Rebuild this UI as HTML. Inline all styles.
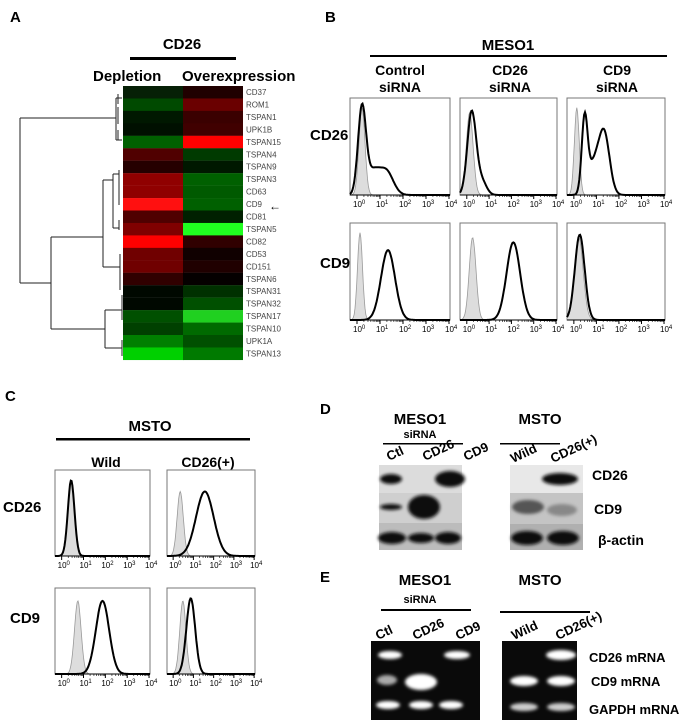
<!DOCTYPE html>
<html><head><meta charset="utf-8"><style>
body{margin:0;background:#fff}
svg{display:block;font-family:"Liberation Sans",sans-serif}
.b{font-weight:bold}
</style></head><body>
<svg id="s" width="689" height="724" viewBox="0 0 689 724" xmlns="http://www.w3.org/2000/svg">
<defs>
<filter id="bl2" x="-50%" y="-50%" width="200%" height="200%"><feGaussianBlur stdDeviation="1.5"/></filter>
</defs>
<!-- Panel A -->
<text x="10" y="22" font-size="15" class="b">A</text>
<text x="182" y="49" font-size="15" class="b" text-anchor="middle">CD26</text>
<rect x="130" y="57" width="106" height="3" fill="#000"/>
<text x="93" y="81" font-size="15" class="b">Depletion</text>
<text x="182" y="81" font-size="15" class="b">Overexpression</text>
<g id="heat"></g>
<g stroke="#222" stroke-width="1" fill="none">
<path d="M20,118 V283 M20,118 H116 M116,98 V140 M116,98 H122 M116,140 H122 M118,94 V104 M118,107 V124 M118,130 V140"/>
<path d="M20,283 H51 M51,237 V329 M51,237 H103 M103,180 V267 M103,180 H113 M113,174 V228 M113,228 H119 M119,220 V230 M113,174 H119 M119,170 V205 M103,267 H120 M120,254 V290"/>
<path d="M51,329 H105 M105,310 V348 M105,310 H122 M105,348 H122 M122,295 V320 M122,340 V356"/>
</g>
<g id="alab" font-size="8" fill="#444"></g>
<text x="269" y="210" font-size="12">&#8592;</text>

<!-- Panel B -->
<text x="325" y="22" font-size="15" class="b">B</text>
<text x="508" y="50" font-size="15" class="b" text-anchor="middle">MESO1</text>
<rect x="370" y="55" width="297" height="2" fill="#000"/>
<g font-size="14" class="b" text-anchor="middle">
<text x="400" y="75">Control</text><text x="400" y="92">siRNA</text>
<text x="510" y="75">CD26</text><text x="510" y="92">siRNA</text>
<text x="617" y="75">CD9</text><text x="617" y="92">siRNA</text>
</g>
<text x="310" y="140" font-size="15" class="b">CD26</text>
<text x="320" y="268" font-size="15" class="b">CD9</text>
<g font-size="13" class="b">
<text x="405" y="125">MFI</text><text x="405" y="142">23.5</text>
<text x="628" y="125">MFI</text><text x="628" y="142">53.7</text>
<text x="413" y="249">MFI</text><text x="413" y="266">70.3</text>
<text x="476" y="241">MFI</text><text x="476" y="258">212.5</text>
</g>

<!-- Panel C -->
<text x="5" y="401" font-size="15" class="b">C</text>
<text x="150" y="431" font-size="15" class="b" text-anchor="middle">MSTO</text>
<rect x="56" y="438" width="194" height="2.5" fill="#000"/>
<text x="106" y="467" font-size="14" class="b" text-anchor="middle">Wild</text>
<text x="208" y="467" font-size="14" class="b" text-anchor="middle">CD26(+)</text>
<text x="3" y="512" font-size="15" class="b">CD26</text>
<text x="10" y="623" font-size="15" class="b">CD9</text>
<g font-size="13" class="b">
<text x="215" y="491">MFI</text><text x="215" y="508">57.8</text>
<text x="113" y="606">MFI</text><text x="113" y="623">71.6</text>
<text x="208" y="606">MFI</text><text x="215" y="623">11.2</text>
</g>
<g id="hists"></g>

<!-- Panel D -->
<text x="320" y="414" font-size="15" class="b">D</text>
<text x="420" y="424" font-size="15" class="b" text-anchor="middle">MESO1</text>
<text x="420" y="438" font-size="11" class="b" text-anchor="middle">siRNA</text>
<rect x="383" y="443" width="80" height="1.5" fill="#000"/>
<text x="540" y="424" font-size="15" class="b" text-anchor="middle">MSTO</text>
<rect x="500" y="443" width="60" height="1.5" fill="#000"/>
<g font-size="13" class="b">
<text transform="translate(389,461) rotate(-25)">Ctl</text>
<text transform="translate(425,461) rotate(-25)">CD26</text>
<text transform="translate(466,461) rotate(-25)">CD9</text>
<text transform="translate(513,463) rotate(-25)">Wild</text>
<text transform="translate(553,463) rotate(-25)">CD26(+)</text>
</g>
<rect x="379" y="465" width="83" height="28" fill="#dcdcdc"/>
<rect x="379" y="493" width="83" height="30" fill="#cfcfcf"/>
<rect x="379" y="523" width="83" height="27" fill="#bcbcbc"/>
<rect x="510" y="465" width="73" height="28" fill="#e8e8e8"/>
<rect x="510" y="493" width="73" height="31" fill="#c4c4c4"/>
<rect x="510" y="524" width="73" height="26" fill="#b0b0b0"/>
<g fill="#111" filter="url(#bl2)">
<ellipse cx="391" cy="479" rx="11" ry="5"/>
<ellipse cx="450" cy="479" rx="15" ry="8"/>
<ellipse cx="560" cy="479" rx="18" ry="6"/>
<ellipse cx="391" cy="507" rx="11" ry="3"/>
<ellipse cx="424" cy="507" rx="16" ry="12"/>
<ellipse cx="528" cy="507" rx="16" ry="7" fill="#555"/>
<ellipse cx="562" cy="510" rx="15" ry="6" fill="#888"/>
<ellipse cx="392" cy="538" rx="14" ry="6"/>
<ellipse cx="421" cy="538" rx="13" ry="5"/>
<ellipse cx="448" cy="538" rx="13" ry="6"/>
<ellipse cx="527" cy="538" rx="16" ry="7"/>
<ellipse cx="563" cy="538" rx="16" ry="7"/>
</g>
<g font-size="14" class="b">
<text x="592" y="480">CD26</text><text x="594" y="514">CD9</text><text x="598" y="545">β-actin</text>
</g>

<!-- Panel E -->
<text x="320" y="582" font-size="15" class="b">E</text>
<text x="425" y="585" font-size="15" class="b" text-anchor="middle">MESO1</text>
<text x="420" y="603" font-size="11" class="b" text-anchor="middle">siRNA</text>
<rect x="381" y="609" width="90" height="2" fill="#000"/>
<text x="540" y="585" font-size="15" class="b" text-anchor="middle">MSTO</text>
<rect x="500" y="611" width="90" height="2" fill="#000"/>
<g font-size="13" class="b">
<text transform="translate(378,640) rotate(-25)">Ctl</text>
<text transform="translate(415,640) rotate(-25)">CD26</text>
<text transform="translate(458,640) rotate(-25)">CD9</text>
<text transform="translate(514,640) rotate(-25)">Wild</text>
<text transform="translate(558,640) rotate(-25)">CD26(+)</text>
</g>
<rect x="371" y="641" width="109" height="79" fill="#0a0a0a"/>
<rect x="502" y="641" width="75" height="79" fill="#0a0a0a"/>
<g fill="#fff" filter="url(#bl2)">
<ellipse cx="390" cy="655" rx="12" ry="4"/>
<ellipse cx="457" cy="655" rx="13" ry="4"/>
<ellipse cx="387" cy="680" rx="10" ry="5" fill="#aaa"/>
<ellipse cx="421" cy="682" rx="16" ry="8"/>
<ellipse cx="388" cy="705" rx="12" ry="4"/>
<ellipse cx="421" cy="705" rx="12" ry="4"/>
<ellipse cx="451" cy="705" rx="12" ry="4"/>
<ellipse cx="561" cy="655" rx="15" ry="5"/>
<ellipse cx="524" cy="681" rx="14" ry="5"/>
<ellipse cx="561" cy="681" rx="14" ry="5"/>
<ellipse cx="524" cy="707" rx="14" ry="4" fill="#ccc"/>
<ellipse cx="561" cy="707" rx="14" ry="4" fill="#ccc"/>
</g>
<g font-size="13" class="b">
<text x="589" y="662">CD26 mRNA</text><text x="591" y="686">CD9 mRNA</text><text x="589" y="714">GAPDH mRNA</text>
</g>
</svg>
<script>
var NS="http://www.w3.org/2000/svg";
function el(p,t,a,txt){var e=document.createElementNS(NS,t);for(var k in a)e.setAttribute(k,a[k]);if(txt)e.textContent=txt;p.appendChild(e);return e;}
var rows=[["CD37","#062006","#200000"],["ROM1","#004a00","#6a0000"],["TSPAN1","#001800","#3a0000"],["UPK1B","#001000","#400000"],["TSPAN15","#006000","#ff0000"],["TSPAN4","#500000","#003a00"],["TSPAN9","#250000","#001800"],["TSPAN3","#900000","#006000"],["CD63","#900000","#005a00"],["CD9","#ff1010","#006000"],["CD81","#500000","#002000"],["TSPAN5","#800000","#20ff20"],["CD82","#ff0000","#300000"],["CD53","#700000","#100000"],["CD151","#700000","#200000"],["TSPAN6","#300000","#050000"],["TSPAN31","#000800","#003000"],["TSPAN32","#000800","#005000"],["TSPAN17","#005000","#20d020"],["TSPAN10","#004000","#006a00"],["UPK1A","#008000","#005000"],["TSPAN13","#00d000","#007a00"]];
var H=document.getElementById("heat"),L=document.getElementById("alab");
rows.forEach(function(r,i){var y=86+i*12.45;el(H,"rect",{x:123,y:y,width:61,height:12.6,fill:r[1]});el(H,"rect",{x:183,y:y,width:60,height:12.6,fill:r[2]});el(L,"text",{x:246,y:y+9},r[0]);});
var G=document.getElementById("hists");
function g(x,m,s){return Math.exp(-(x-m)*(x-m)/(2*s*s));}
function path(x0,y0,w,h,pk){var d="";for(var i=0;i<=120;i++){var t=i/120,v=0;pk.forEach(function(p){v+=p[2]*g(t,p[0],p[1]);});v=Math.min(v,0.95);d+=(i?"L":"M")+(x0+t*w).toFixed(1)+","+(y0+h-v*h).toFixed(1);}return d;}
function hist(x0,y0,w,h,gp,bp){
 el(G,"rect",{x:x0,y:y0,width:w,height:h,fill:"#fff",stroke:"#777","stroke-width":1});
 el(G,"path",{d:path(x0,y0,w,h,[gp])+"L"+(x0+w)+","+(y0+h)+"L"+x0+","+(y0+h)+"Z",fill:"#ddd",stroke:"#999","stroke-width":0.8});
 el(G,"path",{d:path(x0,y0,w,h,bp),fill:"none",stroke:"#000","stroke-width":2});
 el(G,"line",{x1:x0,y1:y0+h,x2:x0+w,y2:y0+h,stroke:"#000","stroke-width":1});
 for(var k=0;k<=4;k++){var tx=x0+w*(0.07+k*0.23);el(G,"line",{x1:tx,y1:y0+h,x2:tx,y2:y0+h+4,stroke:"#000"});
  for(var m=1;m<9&&k<4;m++){var mx=tx+w*0.23*Math.log10(m+1);el(G,"line",{x1:mx,y1:y0+h,x2:mx,y2:y0+h+2,stroke:"#000","stroke-width":0.6});}
  var t=el(G,"text",{x:tx-4,y:y0+h+12,"font-size":8},"10");el(t,"tspan",{dy:-3,"font-size":6},String(k));}
}
hist(350,98,100,97,[0.12,0.03,0.9],[[0.12,0.04,0.9],[0.36,0.07,0.25],[0.23,0.06,0.22]]);
hist(460,98,97,97,[0.1,0.035,0.85],[[0.12,0.045,0.85],[0.22,0.05,0.15]]);
hist(567,98,98,97,[0.1,0.025,0.9],[[0.18,0.03,0.75],[0.38,0.055,0.62],[0.27,0.06,0.3]]);
hist(350,223,100,97,[0.1,0.025,0.9],[[0.38,0.07,0.72]]);
hist(460,223,97,97,[0.13,0.035,0.85],[[0.55,0.07,0.8]]);
hist(567,223,98,97,[0.12,0.045,0.85],[[0.13,0.05,0.88]]);
hist(55,470,95,86,[0.17,0.035,0.88],[[0.17,0.035,0.88]]);
hist(167,470,88,86,[0.15,0.035,0.75],[[0.43,0.1,0.75]]);
hist(55,588,95,86,[0.24,0.035,0.85],[[0.5,0.07,0.85]]);
hist(167,588,88,86,[0.18,0.035,0.85],[[0.27,0.05,0.88]]);
</script>
</body></html>
